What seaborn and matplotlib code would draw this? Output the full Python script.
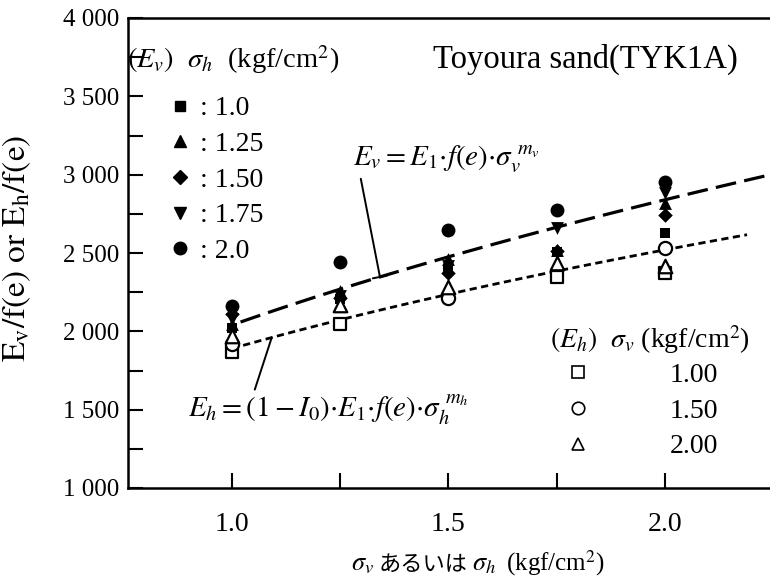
import numpy as np
import pandas as pd
import matplotlib
matplotlib.use("Agg")
import matplotlib.pyplot as plt
import seaborn as sns
from matplotlib.lines import Line2D
from matplotlib.offsetbox import TextArea, HPacker, AnchoredOffsetbox

# Confining stress levels on the x axis (kgf/cm2)
sigma = [1.0, 1.25, 1.5, 1.75, 2.0]

# Ev/f(e) against sigma_v, one series per sigma_h (filled markers)
ev_sh_100 = [2020, 2205, 2390, 2505, 2630]
ev_sh_125 = [2050, 2255, 2460, 2520, 2820]
ev_sh_150 = [2110, 2215, 2370, 2510, 2740]
ev_sh_175 = [2080, 2225, 2420, 2660, 2880]
ev_sh_200 = [2160, 2440, 2650, 2775, 2955]

# Eh/f(e) against sigma_h, one series per sigma_v (open markers)
eh_sv_100 = [1865, 2050, np.nan, 2350, 2375]
eh_sv_150 = [1920, np.nan, 2215, np.nan, 2530]
eh_sv_200 = [1970, 2170, 2280, 2435, 2420]

ev_levels = ["1.0", "1.25", "1.50", "1.75", "2.0"]
eh_levels = ["1.00", "1.50", "2.00"]

# Fitted power laws  E/f(e) = A * sigma ** m
ev_coef = (2040.0, 0.477)
eh_coef = (1890.0, 0.415)
ev_span = (1.02, 2.26)
eh_span = (1.0, 2.19)

x_ticks = [1.0, 1.25, 1.5, 1.75, 2.0]
x_tick_labels = ["1.0", "", "1.5", "", "2.0"]
y_ticks = [1000, 1500, 2000, 2500, 3000, 3500, 4000]
y_minor = [1250, 1750, 2250, 2750, 3250, 3750]
y_tick_labels = ["1 000", "1 500", "2 000", "2 500", "3 000", "3 500", "4 000"]

sns.set_theme(style="white")
plt.rcParams["font.family"] = ["Liberation Serif", "Noto Sans CJK JP", "DejaVu Sans"]
plt.rcParams["mathtext.fontset"] = "stix"
plt.rcParams["text.color"] = "black"

W, H = 770, 580
fig = plt.figure(figsize=(W / 100, H / 100), dpi=100, facecolor="white")
ax = fig.add_axes([128 / W, 1 - 488 / H, 1 - 128 / W, 470 / H])


def power(coef, x):
    return coef[0] * np.power(x, coef[1])


# fitted curves
xv = np.linspace(*ev_span, 120)
sns.lineplot(x=xv, y=power(ev_coef, xv), color="black", linewidth=2.3,
             linestyle=(0, (6.5, 2.6)), ax=ax, zorder=2)
xh = np.linspace(*eh_span, 120)
sns.lineplot(x=xh, y=power(eh_coef, xh), color="black", linewidth=2.0,
             linestyle=(0, (2.6, 1.6)), ax=ax, zorder=2)

# Ev points (filled)
ev_series = [ev_sh_100, ev_sh_125, ev_sh_150, ev_sh_175, ev_sh_200]
ev_markers = ["s", "^", "D", "v", "o"]
ev_sizes = [60, 85, 55, 85, 100]
for vals, mk, sz in zip(ev_series, ev_markers, ev_sizes):
    sns.scatterplot(x=sigma, y=vals, marker=mk, s=sz, color="black",
                    linewidth=0, ax=ax, zorder=4)

# Eh points (open)
eh_series = [eh_sv_100, eh_sv_150, eh_sv_200]
eh_markers = ["s", "o", "^"]
eh_sizes = [80, 90, 95]
for vals, mk, sz in zip(eh_series, eh_markers, eh_sizes):
    sns.scatterplot(x=sigma, y=vals, marker=mk, s=sz, facecolor="white",
                    edgecolor="black", linewidth=1.6, ax=ax, zorder=5)

ax.set_xlim(0.76, 2.243)
ax.set_ylim(1000, 4000)
ax.set_xticks(x_ticks)
ax.set_xticklabels(x_tick_labels, fontsize=20)
ax.set_yticks(y_ticks)
ax.set_yticklabels(y_tick_labels, fontsize=18)
ax.set_yticks(y_minor, minor=True)
ax.tick_params(axis="both", which="both", direction="in", length=11,
               width=1.5, colors="black", bottom=True, left=True,
               top=False, right=False)
ax.tick_params(axis="x", pad=17)
ax.tick_params(axis="y", pad=6)
for side in ["left", "top", "bottom"]:
    ax.spines[side].set_visible(True)
    ax.spines[side].set_color("black")
    ax.spines[side].set_linewidth(1.8)
ax.spines["right"].set_visible(False)
ax.set_xlabel("")
ax.set_ylabel(r"$\mathrm{E_v/f(e)\ or\ E_h/f(e)}$", fontsize=24, color="black")
ax.yaxis.set_label_coords(-0.148, 0.51)

# x-axis title mixing math symbols and Japanese
parts = [
    TextArea(r"$\sigma_v$", textprops=dict(fontsize=19, color="black")),
    TextArea("あるいは", textprops=dict(fontsize=16, color="black",
                                    family=["Noto Sans CJK JP"])),
    TextArea(r"$\sigma_h$", textprops=dict(fontsize=19, color="black")),
    TextArea(r" (kgf/cm$^2$)", textprops=dict(fontsize=18, color="black")),
]
xlab = AnchoredOffsetbox(loc="center", child=HPacker(children=parts, pad=0, sep=3, align="baseline"),
                         frameon=False, bbox_to_anchor=(478 / W, 1 - 563 / H),
                         bbox_transform=fig.transFigure, pad=0, borderpad=0)
fig.add_artist(xlab)

# sample name
ax.text(0.475, 0.911, "Toyoura sand(TYK1A)", transform=ax.transAxes,
        fontsize=23.5, ha="left", va="center", color="black")

# fitted-law labels with leader lines
x_ev = 1.342
ax.annotate(r"$E_v = E_1{\cdot}f(e){\cdot}\sigma_v^{\ m_v}$",
            xy=(x_ev, power(ev_coef, x_ev)), xytext=(1.279, 3094),
            ha="left", va="center", fontsize=21, color="black",
            arrowprops=dict(arrowstyle="-[, widthB=0.25, lengthB=0", color="black",
                            lw=1.4, relpos=(0.04, 0.0), shrinkA=0, shrinkB=0))
x_eh = 1.092
ax.annotate(r"$E_h = (1 - I_0){\cdot}E_1{\cdot}f(e){\cdot}\sigma_h^{\ m_h}$",
            xy=(x_eh, power(eh_coef, x_eh)), xytext=(0.898, 1498),
            ha="left", va="center", fontsize=21, color="black",
            arrowprops=dict(arrowstyle="-", color="black", lw=1.4,
                            relpos=(0.235, 1.0), shrinkA=0, shrinkB=0))

# Ev legend
ev_handles = [Line2D([], [], marker=m, linestyle="none", color="black", markersize=ms)
              for m, ms in zip(ev_markers, [7, 8, 7, 8, 9])]
leg1 = ax.legend(ev_handles, [": " + s for s in ev_levels], loc="center left",
                 bbox_to_anchor=(166 / W, 1 - 180 / H), bbox_transform=fig.transFigure,
                 frameon=False, fontsize=20, handlelength=1.0, handletextpad=0.22,
                 labelspacing=0.37, borderpad=0, borderaxespad=0)
for t in leg1.get_texts():
    t.set_color("black")
ax.add_artist(leg1)
fig.text(127 / W, 1 - 60 / H, r"$(E_v)$  $\sigma_h$  (kgf/cm$^2$)", fontsize=20.5,
         ha="left", va="center", color="black")

# Eh legend
eh_handles = [Line2D([], [], marker=m, linestyle="none", markerfacecolor="white",
                     markeredgecolor="black", markeredgewidth=1.2, markersize=ms)
              for m, ms in zip(eh_markers, [9, 9, 9])]
leg2 = ax.legend(eh_handles, eh_levels, loc="center left",
                 bbox_to_anchor=(564 / W, 1 - 411 / H), bbox_transform=fig.transFigure,
                 frameon=False, fontsize=20, handlelength=1.0, handletextpad=2.8,
                 labelspacing=0.37, borderpad=0, borderaxespad=0)
for t in leg2.get_texts():
    t.set_color("black")
fig.text(550 / W, 1 - 340 / H, r"$(E_h)$  $\sigma_v$ (kgf/cm$^2$)", fontsize=20,
         ha="left", va="center", color="black")

fig.savefig("out.png", dpi=100, facecolor="white")
